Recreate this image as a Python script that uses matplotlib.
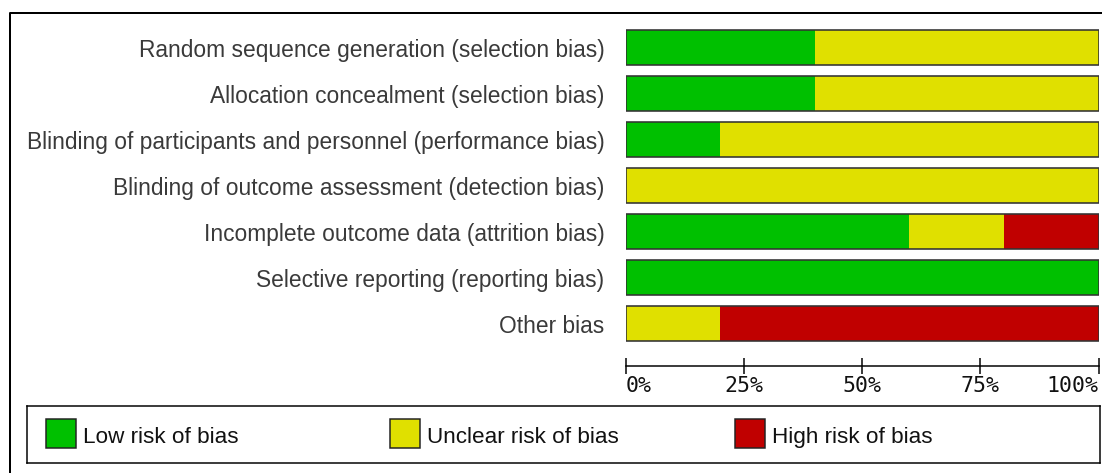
import matplotlib
matplotlib.use("Agg")
import matplotlib.pyplot as plt
from matplotlib.lines import Line2D
from matplotlib.patches import Rectangle

domains = [
    "Random sequence generation (selection bias)",
    "Allocation concealment (selection bias)",
    "Blinding of participants and personnel (performance bias)",
    "Blinding of outcome assessment (detection bias)",
    "Incomplete outcome data (attrition bias)",
    "Selective reporting (reporting bias)",
    "Other bias",
]
low_risk = [40, 40, 20, 0, 60, 100, 0]
unclear_risk = [60, 60, 80, 100, 20, 0, 20]
high_risk = [0, 0, 0, 0, 20, 0, 80]

x_ticks = [0, 25, 50, 75, 100]
x_tick_labels = ["0%", "25%", "50%", "75%", "100%"]

risk_labels = ["Low risk of bias", "Unclear risk of bias", "High risk of bias"]
risk_colors = ["#00c000", "#e0e000", "#c00000"]

W, H = 1102, 473
PX = 72 / 100  # points per pixel at dpi 100

fig = plt.figure(figsize=(W / 100, H / 100), dpi=100)
fig.patch.set_facecolor("white")

# main bar panel, 46 px per row
ax = fig.add_axes([625.5 / W, 1 - 366 / H, (1098.5 - 625.5) / W, (366 - 24.5) / H])
rows = list(range(len(domains)))
left = [0] * len(domains)
for vals, col in zip([low_risk, unclear_risk, high_risk], risk_colors):
    ax.barh(rows, vals, left=left, height=0.76, color=col, linewidth=0)
    left = [a + b for a, b in zip(left, vals)]
ax.barh(rows, left, height=0.76, fill=False, edgecolor="#333333", linewidth=1.6 * PX)

ax.set_xlim(0, 100)
ax.set_ylim(6 + 42.5 / 46, -0.5)
ax.set_yticks(rows)
ax.set_yticklabels(domains, fontsize=16.35, color="#3a3a3a", family="Liberation Sans")
ax.tick_params(axis="y", length=0, pad=21 * PX)

ax.set_xticks(x_ticks)
ax.set_xticklabels(x_tick_labels, fontsize=15.5, family="DejaVu Sans Mono", color="#111111")
ax.tick_params(axis="x", direction="inout", length=16 * PX, width=1.5 * PX, pad=2 * PX)
labels = ax.get_xticklabels()
labels[0].set_ha("left")
labels[-1].set_ha("right")

for side in ["top", "right", "left"]:
    ax.spines[side].set_visible(False)
ax.spines["bottom"].set_linewidth(1.5 * PX)
ax.patch.set_alpha(0)

# legend box
lax = fig.add_axes([27 / W, 1 - 463 / H, (1100 - 27) / W, (463 - 406) / H])
lax.set_xlim(27, 1100)
lax.set_ylim(463, 406)
lax.set_xticks([])
lax.set_yticks([])
for sp in lax.spines.values():
    sp.set_linewidth(1.5 * PX)
swatch_x = [46, 390, 735]
for sx, lab, col in zip(swatch_x, risk_labels, risk_colors):
    lax.add_patch(Rectangle((sx, 419), 30, 29, facecolor=col, edgecolor="#222222", linewidth=1.5 * PX))
    lax.text(sx + 37, 443, lab, fontsize=16.2, family="Liberation Sans",
             color="#111111", va="baseline", ha="left")

# outer frame (cut off at right and bottom)
fig.add_artist(Line2D([10 / W, 10 / W, 1], [0, 1 - 12.7 / H, 1 - 12.7 / H],
                      transform=fig.transFigure, color="black", linewidth=2 * PX))

fig.savefig("out.png", dpi=100)
